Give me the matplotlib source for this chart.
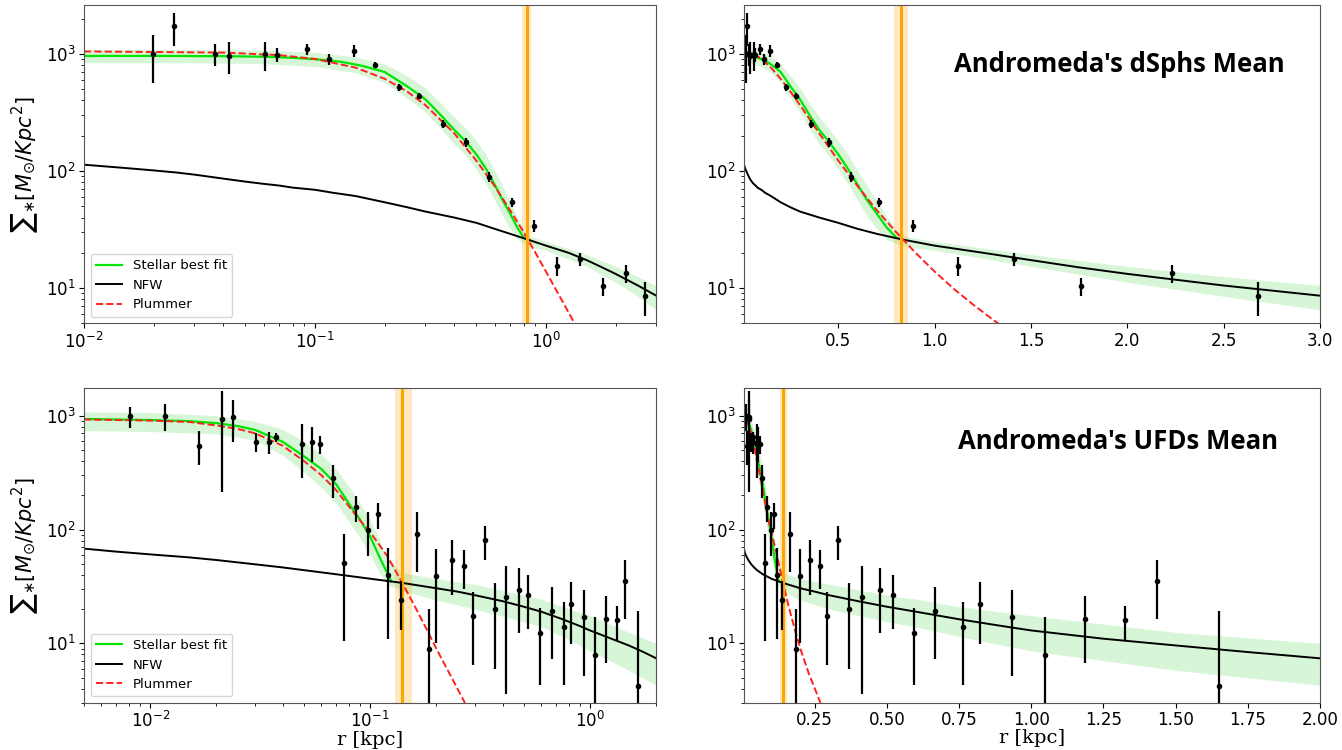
import numpy as np
import matplotlib.pyplot as plt

# ---------------- Andromeda dSphs (top row) ----------------
ds_r = [0.0199, 0.0246, 0.037, 0.0423, 0.0605, 0.0683, 0.0923, 0.115, 0.147, 0.182, 0.23,
        0.281, 0.357, 0.449, 0.565, 0.71, 0.886, 1.12, 1.41, 1.757, 2.23, 2.68]
ds_sig = [1000, 1714, 1000, 961, 994, 980, 1096, 900, 1061, 800, 518,
          440, 251, 175, 89, 54, 34, 15.5, 17.7, 10.4, 13.4, 8.5]
ds_err = [440, 540, 220, 290, 280, 135, 120, 100, 130, 50, 40,
          25, 20, 15, 8, 5, 4, 2.8, 2.2, 1.8, 2.3, 2.7]

# stellar best fit (inner part, until it joins NFW)
ds_fit_r = [0.01, 0.02, 0.04, 0.06, 0.08, 0.1, 0.13, 0.16, 0.2, 0.25, 0.3, 0.35, 0.4,
            0.45, 0.5, 0.55, 0.6, 0.65, 0.7, 0.75, 0.8]
ds_fit = [960, 960, 955, 945, 925, 900, 855, 790, 700, 530, 410, 300, 225,
          178, 138, 104, 76, 56, 43, 33, 27]

ds_plum_r = [0.01, 0.04, 0.07, 0.1, 0.15, 0.2, 0.25, 0.3, 0.4, 0.5, 0.6, 0.7, 0.8,
             0.9, 1.0, 1.1, 1.2, 1.3, 1.4]
ds_plum = [1048, 1025, 975, 905, 762, 613, 478, 366, 210, 122, 74, 46, 30,
           20, 13.8, 9.8, 7.2, 5.4, 4.1]

ds_nfw_r = [0.01, 0.015, 0.02, 0.025, 0.03, 0.04, 0.05, 0.06, 0.07, 0.08, 0.1, 0.12, 0.15,
            0.2, 0.25, 0.3, 0.4, 0.5, 0.6, 0.7, 0.83, 1.0, 1.25, 1.5, 1.75, 2.0, 2.5, 3.0]
ds_nfw = [113, 106, 101, 97, 93, 86, 81, 77.5, 75, 72, 69, 65, 61,
          54, 49, 45, 40, 36, 32, 29, 26, 23, 20, 17.3, 15, 13.2, 10.5, 8.6]

ds_band_r = [0.01, 0.03, 0.06, 0.1, 0.15, 0.2, 0.25, 0.3, 0.35, 0.4, 0.45, 0.5, 0.55, 0.6,
             0.65, 0.7, 0.75, 0.8, 0.85, 1.0, 1.5, 2.0, 2.5, 3.0]
ds_band_hi = [1090, 1088, 1075, 1030, 940, 820, 650, 510, 380, 290, 230, 180, 137, 100,
              74, 55, 41, 31, 27.5, 25, 19.3, 15.3, 12.5, 10.5]
ds_band_lo = [840, 838, 825, 780, 690, 570, 420, 320, 230, 170, 135, 103, 77, 56,
              41, 32, 26, 24, 22.5, 21, 15.3, 11.2, 8.5, 6.5]

ds_rt, ds_rt_lo, ds_rt_hi = 0.825, 0.79, 0.86

# ---------------- Andromeda UFDs (bottom row) ----------------
uf_r = [0.0081, 0.0117, 0.0166, 0.0213, 0.0237, 0.0303, 0.0348, 0.0375, 0.0489, 0.0544,
        0.0589, 0.0678, 0.0762, 0.0861, 0.0978, 0.1086, 0.121, 0.138, 0.163, 0.186,
        0.20, 0.235, 0.268, 0.293, 0.332, 0.37, 0.415, 0.475, 0.522, 0.593,
        0.668, 0.765, 0.823, 0.934, 1.048, 1.186, 1.325, 1.436, 1.65]
uf_sig = [990, 1000, 546, 935, 973, 592, 592, 646, 565, 592,
          565, 281, 50.6, 157, 100, 136, 40, 24, 92, 8.9,
          39, 53.7, 48, 17.5, 81.5, 20, 25.6, 29.3, 26.5, 12.3,
          19.3, 13.8, 22.4, 17.2, 7.9, 16.5, 16, 35.4, 4.26]
uf_err = [210, 260, 180, 720, 390, 110, 130, 60, 280, 200,
          100, 90, 40, 40, 42, 35, 29, 11, 50, 11,
          29, 27, 18, 11, 27, 14, 22, 17, 13, 8,
          12, 9.5, 12.5, 12, 9, 9.7, 5.5, 19, 15]

uf_fit_r = [0.005, 0.01, 0.015, 0.02, 0.025, 0.03, 0.04, 0.05, 0.06, 0.07, 0.08, 0.09,
            0.1, 0.11, 0.12, 0.125]
uf_fit = [935, 915, 895, 860, 810, 750, 590, 440, 340, 250, 170, 122,
          87, 58, 41, 35]

uf_plum_r = [0.005, 0.01, 0.015, 0.02, 0.025, 0.03, 0.04, 0.05, 0.06, 0.07, 0.08, 0.09,
             0.1, 0.12, 0.14, 0.16, 0.18, 0.2, 0.23, 0.27]
uf_plum = [925, 905, 880, 820, 765, 700, 545, 400, 300, 222, 160, 120,
           95, 58, 34, 21, 13.5, 9, 5.4, 3.0]

uf_nfw_r = [0.005, 0.007, 0.01, 0.015, 0.02, 0.03, 0.04, 0.05, 0.07, 0.1, 0.14, 0.2, 0.25,
            0.3, 0.4, 0.5, 0.6, 0.75, 0.9, 1.0, 1.25, 1.5, 1.75, 2.0]
uf_nfw = [68, 64, 60.5, 57, 54, 49.5, 46.5, 44, 40.5, 37, 34, 30.5, 28.5,
          26.5, 23.5, 21, 19, 16.3, 14.2, 13, 11, 9.6, 8.4, 7.4]

uf_band_r = [0.005, 0.01, 0.02, 0.03, 0.04, 0.05, 0.06, 0.07, 0.08, 0.09, 0.1, 0.11, 0.12,
             0.14, 0.16, 0.2, 0.3, 0.5, 0.6, 0.75, 1.0, 1.5, 2.0]
uf_band_hi = [1080, 1065, 1000, 890, 760, 590, 460, 340, 240, 170, 122, 82, 55,
              42, 40, 37, 33, 26.5, 24.5, 21, 17.5, 12.5, 10]
uf_band_lo = [740, 725, 690, 610, 450, 320, 235, 170, 118, 84, 60, 42, 33,
              29, 27, 24, 20, 15.5, 14, 11.5, 8.6, 5.8, 4.3]

uf_rt, uf_rt_lo, uf_rt_hi = 0.14, 0.13, 0.155


def draw_panel(ax, d, logx, legend):
    ax.fill_between(d['band_r'], d['band_lo'], d['band_hi'], color='#9be89b', alpha=0.4, lw=0)
    ax.plot(d['fit_r'], d['fit'], color='#00e600', lw=1.6, label='Stellar best fit')
    ax.plot(d['nfw_r'], d['nfw'], color='black', lw=1.4, label='NFW')
    ax.plot(d['plum_r'], d['plum'], color='#ff2020', lw=1.4, ls='--', label='Plummer')
    ax.axvspan(d['rt_lo'], d['rt_hi'], color='orange', alpha=0.25, lw=0)
    ax.axvline(d['rt'], color='orange', lw=2.2)
    ax.errorbar(d['r'], d['sig'], yerr=d['err'], fmt='o', color='black', ms=3,
                elinewidth=1.6, capsize=0)
    ax.set_yscale('log')
    if logx:
        ax.set_xscale('log')
    ax.set_xlim(d['xlim'])
    ax.set_ylim(d['ylim'])
    ax.tick_params(labelsize=12, pad=2.5)
    for s in ax.spines.values():
        s.set_color('#555555')
    if legend:
        ax.legend(loc='lower left', fontsize=9.5, framealpha=0.8)


top = dict(r=ds_r, sig=ds_sig, err=ds_err, fit_r=ds_fit_r, fit=ds_fit,
           plum_r=ds_plum_r, plum=ds_plum, nfw_r=ds_nfw_r, nfw=ds_nfw,
           band_r=ds_band_r, band_lo=ds_band_lo, band_hi=ds_band_hi,
           rt=ds_rt, rt_lo=ds_rt_lo, rt_hi=ds_rt_hi, xlim=(0.01, 3.0), ylim=(5, 2600))
bot = dict(r=uf_r, sig=uf_sig, err=uf_err, fit_r=uf_fit_r, fit=uf_fit,
           plum_r=uf_plum_r, plum=uf_plum, nfw_r=uf_nfw_r, nfw=uf_nfw,
           band_r=uf_band_r, band_lo=uf_band_lo, band_hi=uf_band_hi,
           rt=uf_rt, rt_lo=uf_rt_lo, rt_hi=uf_rt_hi, xlim=(0.005, 2.0), ylim=(3, 1750))

fig = plt.figure(figsize=(13.42, 7.5), dpi=100)
ax1 = fig.add_axes([0.0626, 0.569, 0.4264, 0.424])
ax2 = fig.add_axes([0.5544, 0.569, 0.4292, 0.424])
ax3 = fig.add_axes([0.0626, 0.0627, 0.4264, 0.420])
ax4 = fig.add_axes([0.5544, 0.0627, 0.4292, 0.420])

draw_panel(ax1, top, True, True)
draw_panel(ax2, top, False, False)
draw_panel(ax3, bot, True, True)
draw_panel(ax4, bot, False, False)

ylab = r'${\sum}_{\ast}[M_{\odot}/Kpc^2]$'
ax1.set_ylabel(ylab, fontsize=15)
ax3.set_ylabel(ylab, fontsize=15)
ax3.set_xlabel('r [kpc]', fontsize=14, family='DejaVu Serif', labelpad=0)
ax4.set_xlabel('r [kpc]', fontsize=14, family='DejaVu Serif', labelpad=0)

ax2.text(0.651, 0.814, "Andromeda's dSphs Mean", transform=ax2.transAxes, ha='center',
         va='center', fontsize=18.5, fontweight='bold', family='Open Sans')
ax4.text(0.649, 0.829, "Andromeda's UFDs Mean", transform=ax4.transAxes, ha='center',
         va='center', fontsize=18.5, fontweight='bold', family='Open Sans')

fig.savefig('out.png', dpi=100)
